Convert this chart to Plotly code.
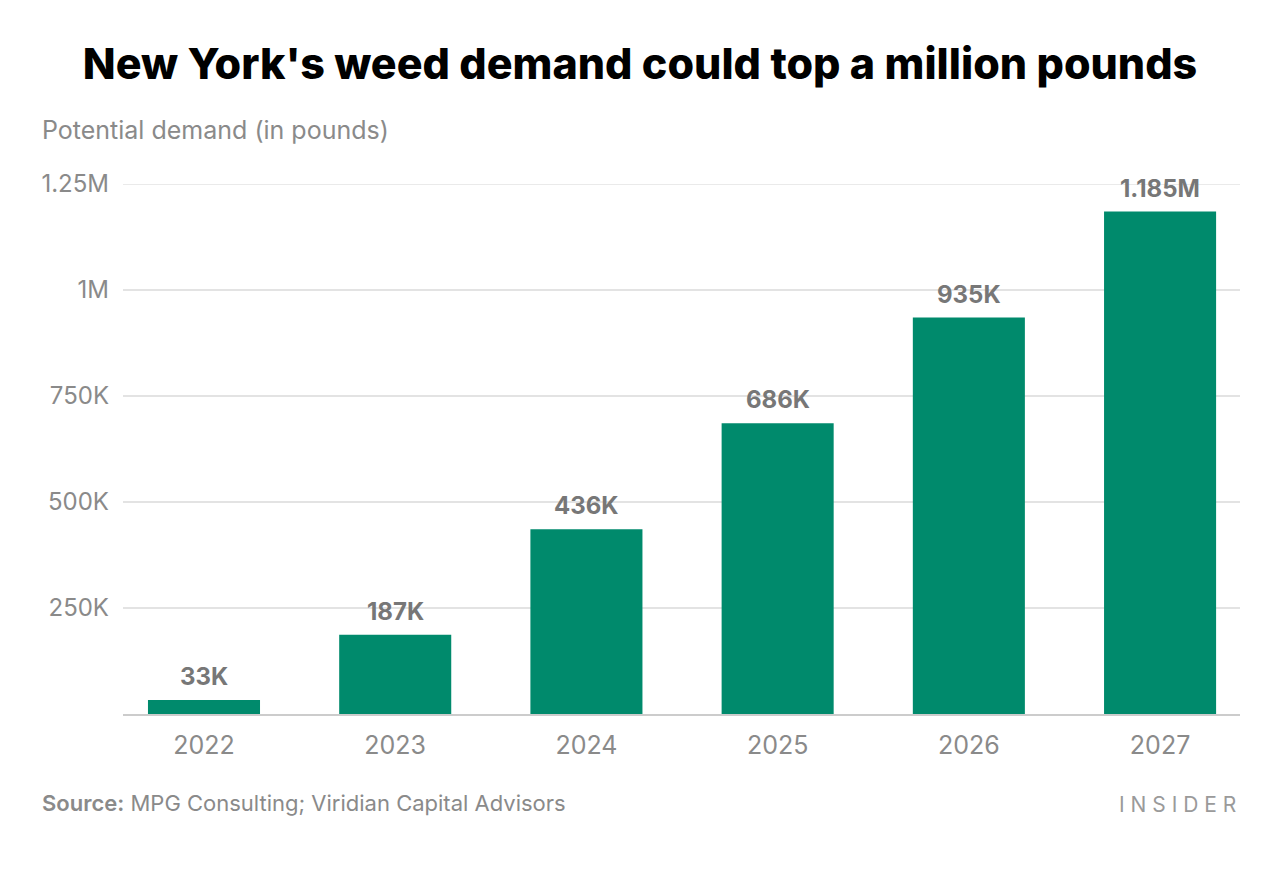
import plotly.graph_objects as go

years = ["2022", "2023", "2024", "2025", "2026", "2027"]
demand = [33000, 187000, 436000, 686000, 935000, 1185000]
value_labels = ["33K", "187K", "436K", "686K", "935K", "1.185M"]
tick_vals = [0, 250000, 500000, 750000, 1000000, 1250000]
tick_text = ["", "250K", "500K", "750K", "1M", "1.25M"]

GREEN = "#008A6C"
GREY = "#8a8a8a"
FONT = "Inter, Roboto, sans-serif"

# page body has an 8px offset; layout numbers below are in paper pixels
L, R, T, B = 115, 48, 176, 174
PW = 1280 - L - R
PH = 880 - T - B

fig = go.Figure()
fig.add_trace(go.Bar(
    x=years, y=demand, marker=dict(color=GREEN, line=dict(width=0)),
    hoverinfo="skip", showlegend=False,
))

for i, (v, t) in enumerate(zip(demand, value_labels)):
    fig.add_annotation(x=i, y=v, text=f"<b>{t}</b>", showarrow=False,
                       yanchor="bottom", yshift=7,
                       font=dict(family=FONT, size=24, color="#777777"))

# top gridline (plotly drops the grid line lying on the plot edge)
fig.add_shape(type="line", xref="paper", yref="y", x0=0, x1=1,
              y0=tick_vals[-1], y1=tick_vals[-1],
              line=dict(color="#e3e3e3", width=1.5), layer="below")

fig.update_layout(
    width=1280, height=880,
    margin=dict(l=L, r=R, t=T, b=B),
    paper_bgcolor="white", plot_bgcolor="white",
    bargap=0.414,
    font=dict(family=FONT, color=GREY),
    title=dict(text="New York's weed demand could top a million pounds",
               x=0.5 - 8/1280, xanchor="center", y=1 - 56/880, yanchor="middle",
               font=dict(family=FONT, size=43, color="#000000", weight=800)),
    xaxis=dict(type="category", range=[-0.4236, 5.418],
               showgrid=False, showline=True, linecolor="#cccccc", linewidth=2,
               ticks="", ticklabelstandoff=8,
               tickfont=dict(family=FONT, size=25, color=GREY),
               fixedrange=True),
    yaxis=dict(range=[0, 1250000], tickvals=tick_vals, ticktext=tick_text,
               showgrid=True, gridcolor="#e3e3e3", gridwidth=1.5,
               zeroline=False, showline=False, ticks="",
               ticklabelstandoff=13,
               tickfont=dict(family=FONT, size=24, color=GREY),
               fixedrange=True),
)

fig.add_annotation(xref="paper", yref="paper", x=0, xshift=-(L - 32),
                   y=(PH + T - 122) / PH,
                   text="Potential demand (in pounds)", showarrow=False,
                   xanchor="left", yanchor="middle",
                   font=dict(family=FONT, size=25, color=GREY))

fig.add_annotation(xref="paper", yref="paper", x=0, xshift=-(L - 32),
                   y=(PH + T - 795) / PH,
                   text="<span style='font-weight:600'>Source:</span> MPG Consulting; Viridian Capital Advisors",
                   showarrow=False, xanchor="left", yanchor="middle",
                   font=dict(family=FONT, size=22, color=GREY))

fig.add_annotation(xref="paper", yref="paper", x=1.0, xshift=-2,
                   y=(PH + T - 796) / PH,
                   text="I N S I D E R", showarrow=False,
                   xanchor="right", yanchor="middle",
                   font=dict(family=FONT, size=21, color="#9a9a9a"))

fig.write_html("out.html")
